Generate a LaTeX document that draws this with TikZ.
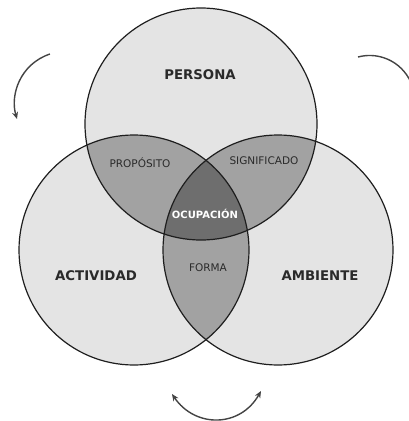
\documentclass[tikz,border=0pt]{standalone}
\usepackage{fontspec}
\setmainfont{DejaVu Sans}
\usetikzlibrary{arrows.meta}
\definecolor{oneset}{HTML}{E4E4E4}
\definecolor{twosets}{HTML}{A2A2A2}
\definecolor{threesets}{HTML}{6E6E6E}
\definecolor{edgeink}{HTML}{1E1E1E}
\definecolor{labelink}{HTML}{2A2A2A}
\definecolor{arrowink}{HTML}{444444}
\tikzset{
  outline/.style={draw=edgeink, line width=1.2pt},
  main/.style={font=\bfseries\fontsize{13.3}{15}\selectfont, text=labelink, inner sep=0pt},
  overlap/.style={font=\fontsize{10.5}{12}\selectfont, text=labelink, inner sep=0pt},
  core/.style={font=\bfseries\fontsize{10}{12}\selectfont, text=white, inner sep=0pt},
  arc line/.style={draw=arrowink, line width=1.4pt},
  cycle arrow/.style={arc line, -{Stealth[length=7pt,width=6pt]}},
}
\begin{document}
\begin{tikzpicture}[x=1pt,y=-1pt]
  \useasboundingbox (0,0) rectangle (409,421);
  % circle centres and radii
  \coordinate (P) at (201,124);
  \coordinate (A) at (134,250);
  \coordinate (E) at (278,250);
  \def\rP{116}
  \def\rA{115}
  \def\rE{115}
  % single regions
  \fill[oneset] (P) circle[radius=\rP];
  \fill[oneset] (A) circle[radius=\rA];
  \fill[oneset] (E) circle[radius=\rE];
  % pairwise overlaps
  \begin{scope}
    \clip (P) circle[radius=\rP];
    \fill[twosets] (A) circle[radius=\rA];
    \fill[twosets] (E) circle[radius=\rE];
  \end{scope}
  \begin{scope}
    \clip (A) circle[radius=\rA];
    \fill[twosets] (E) circle[radius=\rE];
  \end{scope}
  % common core
  \begin{scope}
    \clip (P) circle[radius=\rP];
    \clip (A) circle[radius=\rA];
    \fill[threesets] (E) circle[radius=\rE];
  \end{scope}
  % outlines
  \draw[outline] (P) circle[radius=\rP];
  \draw[outline] (A) circle[radius=\rA];
  \draw[outline] (E) circle[radius=\rE];
  % labels
  \node[main] (persona) at (200,75) {PERSONA};
  \node[main] (actividad) at (96,276) {ACTIVIDAD};
  \node[main] (ambiente) at (320,276) {AMBIENTE};
  \node[overlap] (proposito) at (140,163) {PROPÓSITO};
  \node[overlap] (significado) at (264,161) {SIGNIFICADO};
  \node[overlap] (forma) at (208,268) {FORMA};
  \node[core] (ocupacion) at (205,214) {OCUPACIÓN};
  % cycle arrows
  \coordinate (tl0) at (50,54);
  \coordinate (tl1) at (17,119);
  \draw[cycle arrow] (tl0) .. controls (20,64) and (10,95) .. (tl1);
  \coordinate (tr0) at (358,57);
  \draw[arc line] (tr0) arc[start angle=-105, end angle=-18, radius=45];
  \coordinate (b0) at (172,394);
  \coordinate (b1) at (261,391);
  \draw[arc line, {Stealth[length=7pt,width=6pt]}-{Stealth[length=7pt,width=6pt]}] (b0) .. controls (195,428) and (240,428) .. (b1);
\end{tikzpicture}
\end{document}
